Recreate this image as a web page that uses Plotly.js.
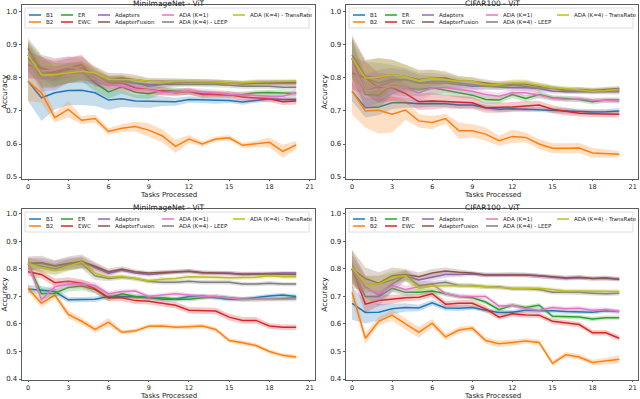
<!DOCTYPE html>
<html lang="en">
<head>
  <meta charset="UTF-8" />
  <title>Accuracy vs Tasks Processed</title>
  <script src="https://cdn.plot.ly/plotly-3.0.1.min.js"></script>
  <style>
    body { margin: 0; background: #fff; }
    #chart { width: 640px; height: 399px; }
  </style>
</head>
<body>
  <div id="chart"></div>
  <script>
    // x values shared by every panel
    const TASKS = [0,1,2,3,4,5,6,7,8,9,10,11,12,13,14,15,16,17,18,19,20];

    const NAMES = ['B1', 'B2', 'ER', 'EWC', 'Adapters', 'AdapterFusion',
                   'ADA (K=1)', 'ADA (K=4) - LEEP', 'ADA (K=4) - TransRate'];
    const COLORS = ['#1f77b4', '#ff7f0e', '#2ca02c', '#d62728', '#9467bd',
                    '#8c564b', '#e377c2', '#7f7f7f', '#bcbd22'];

    const X_TICKS = [0, 3, 6, 9, 12, 15, 18, 21];
    const Y_TICKS_TOP = [0.5, 0.6, 0.7, 0.8, 0.9, 1.0];
    const Y_TICKS_BOTTOM = [0.4, 0.5, 0.6, 0.7, 0.8, 0.9, 1.0];

    // ---- top left : MiniImageNet - ViT (mean, one row per method in NAMES order)
    const miniTopMean = [
      [0.79,0.74,0.755,0.762,0.763,0.755,0.733,0.737,0.73,0.729,0.73,0.728,0.735,0.734,0.732,0.732,0.727,0.733,0.737,0.735,0.735],
      [0.79,0.755,0.68,0.705,0.672,0.677,0.638,0.648,0.653,0.642,0.625,0.593,0.615,0.60,0.615,0.619,0.596,0.60,0.605,0.578,0.597],
      [0.87,0.83,0.805,0.815,0.82,0.785,0.758,0.773,0.757,0.752,0.762,0.76,0.758,0.752,0.75,0.748,0.75,0.755,0.756,0.754,0.753],
      [0.84,0.83,0.82,0.83,0.84,0.80,0.785,0.785,0.77,0.765,0.76,0.755,0.76,0.75,0.75,0.75,0.742,0.74,0.737,0.728,0.73],
      [0.87,0.80,0.798,0.815,0.815,0.80,0.79,0.79,0.785,0.78,0.78,0.785,0.787,0.787,0.787,0.785,0.782,0.785,0.785,0.785,0.785],
      [0.89,0.82,0.815,0.825,0.83,0.81,0.795,0.80,0.795,0.79,0.79,0.79,0.79,0.788,0.787,0.785,0.783,0.785,0.786,0.786,0.786],
      [0.85,0.82,0.825,0.835,0.825,0.805,0.78,0.775,0.765,0.765,0.757,0.757,0.76,0.758,0.755,0.75,0.748,0.745,0.745,0.745,0.755],
      [0.86,0.815,0.81,0.815,0.82,0.81,0.79,0.795,0.785,0.775,0.78,0.78,0.782,0.78,0.78,0.778,0.775,0.775,0.775,0.772,0.772],
      [0.87,0.81,0.81,0.815,0.82,0.815,0.795,0.795,0.795,0.79,0.788,0.79,0.79,0.788,0.788,0.785,0.785,0.788,0.789,0.79,0.79]
    ];
    const miniTopSd = [
      [0.06,0.07,0.05,0.045,0.045,0.04,0.03,0.025,0.02,0.02,0.015,0.012,0.01,0.01,0.01,0.008,0.008,0.008,0.008,0.008,0.008],
      [0.06,0.03,0.015,0.025,0.012,0.012,0.01,0.012,0.015,0.02,0.02,0.02,0.012,0.008,0.008,0.008,0.008,0.01,0.015,0.02,0.012],
      [0.04,0.035,0.03,0.03,0.03,0.025,0.02,0.02,0.018,0.015,0.012,0.01,0.01,0.01,0.008,0.008,0.008,0.008,0.008,0.008,0.008],
      [0.04,0.035,0.03,0.03,0.03,0.025,0.02,0.02,0.015,0.015,0.012,0.01,0.01,0.01,0.01,0.01,0.01,0.01,0.01,0.01,0.01],
      [0.04,0.04,0.035,0.03,0.03,0.02,0.015,0.015,0.012,0.01,0.01,0.008,0.008,0.008,0.008,0.008,0.008,0.008,0.008,0.008,0.008],
      [0.03,0.05,0.045,0.04,0.035,0.025,0.02,0.015,0.015,0.01,0.01,0.008,0.008,0.008,0.008,0.008,0.008,0.008,0.008,0.008,0.008],
      [0.04,0.035,0.03,0.03,0.03,0.02,0.02,0.015,0.012,0.01,0.01,0.01,0.01,0.01,0.01,0.01,0.01,0.01,0.01,0.01,0.01],
      [0.04,0.04,0.035,0.03,0.03,0.02,0.015,0.015,0.012,0.01,0.01,0.008,0.008,0.008,0.008,0.008,0.008,0.008,0.008,0.008,0.008],
      [0.04,0.04,0.035,0.03,0.03,0.02,0.015,0.012,0.01,0.008,0.008,0.008,0.008,0.008,0.008,0.008,0.008,0.008,0.008,0.008,0.008]
    ];

    // ---- top right : CIFAR100 - ViT
    const cifarTopMean = [
      [0.76,0.71,0.712,0.725,0.725,0.722,0.723,0.722,0.718,0.718,0.71,0.705,0.707,0.705,0.705,0.702,0.70,0.697,0.697,0.698,0.70],
      [0.76,0.70,0.702,0.69,0.703,0.67,0.665,0.677,0.64,0.64,0.63,0.61,0.623,0.62,0.60,0.587,0.587,0.588,0.573,0.571,0.569],
      [0.86,0.75,0.748,0.778,0.77,0.765,0.77,0.762,0.755,0.748,0.735,0.733,0.75,0.738,0.75,0.74,0.738,0.735,0.728,0.733,0.733],
      [0.815,0.80,0.77,0.77,0.753,0.728,0.73,0.728,0.726,0.725,0.71,0.71,0.712,0.715,0.718,0.705,0.698,0.693,0.692,0.69,0.69],
      [0.86,0.76,0.775,0.79,0.795,0.785,0.785,0.785,0.78,0.775,0.775,0.772,0.77,0.77,0.768,0.76,0.758,0.758,0.758,0.758,0.758],
      [0.87,0.805,0.80,0.81,0.805,0.795,0.80,0.80,0.79,0.79,0.785,0.78,0.782,0.782,0.775,0.77,0.762,0.765,0.762,0.765,0.768],
      [0.84,0.76,0.765,0.775,0.77,0.755,0.77,0.77,0.765,0.76,0.75,0.745,0.755,0.755,0.748,0.738,0.735,0.737,0.733,0.732,0.73],
      [0.86,0.80,0.785,0.795,0.795,0.785,0.79,0.79,0.785,0.78,0.775,0.775,0.778,0.775,0.77,0.768,0.762,0.762,0.76,0.762,0.762],
      [0.86,0.80,0.802,0.81,0.805,0.792,0.80,0.795,0.79,0.79,0.78,0.78,0.785,0.785,0.777,0.77,0.768,0.765,0.76,0.762,0.765]
    ];
    const cifarTopSd = [
      [0.03,0.03,0.025,0.02,0.015,0.012,0.01,0.01,0.01,0.01,0.008,0.008,0.008,0.008,0.008,0.008,0.008,0.008,0.008,0.008,0.008],
      [0.07,0.05,0.07,0.055,0.03,0.02,0.02,0.015,0.025,0.02,0.02,0.015,0.02,0.015,0.015,0.015,0.015,0.015,0.015,0.012,0.01],
      [0.06,0.04,0.04,0.03,0.025,0.02,0.02,0.015,0.015,0.012,0.012,0.01,0.01,0.01,0.01,0.008,0.008,0.008,0.008,0.008,0.008],
      [0.05,0.05,0.045,0.04,0.03,0.025,0.025,0.02,0.02,0.018,0.015,0.015,0.015,0.015,0.012,0.012,0.012,0.01,0.01,0.01,0.01],
      [0.06,0.05,0.05,0.04,0.03,0.025,0.02,0.015,0.015,0.012,0.01,0.01,0.01,0.01,0.01,0.008,0.008,0.008,0.008,0.008,0.008],
      [0.06,0.05,0.06,0.045,0.035,0.03,0.025,0.02,0.015,0.012,0.01,0.01,0.01,0.01,0.01,0.008,0.008,0.008,0.008,0.008,0.008],
      [0.06,0.05,0.05,0.04,0.03,0.025,0.02,0.015,0.015,0.012,0.012,0.01,0.01,0.01,0.01,0.008,0.008,0.008,0.008,0.008,0.008],
      [0.06,0.05,0.06,0.045,0.035,0.03,0.025,0.02,0.015,0.012,0.01,0.01,0.01,0.01,0.01,0.008,0.008,0.008,0.008,0.008,0.008],
      [0.06,0.05,0.06,0.045,0.035,0.03,0.025,0.02,0.015,0.012,0.01,0.01,0.01,0.01,0.01,0.008,0.008,0.008,0.008,0.008,0.008]
    ];

    // ---- bottom left : MiniImageNet - ViT
    const miniBotMean = [
      [0.727,0.723,0.718,0.688,0.688,0.69,0.70,0.70,0.70,0.698,0.69,0.69,0.70,0.702,0.695,0.69,0.69,0.697,0.702,0.705,0.70],
      [0.73,0.675,0.705,0.635,0.61,0.58,0.607,0.57,0.575,0.592,0.593,0.588,0.59,0.593,0.58,0.54,0.532,0.522,0.50,0.486,0.48],
      [0.82,0.71,0.712,0.733,0.738,0.725,0.695,0.71,0.70,0.695,0.695,0.69,0.69,0.695,0.70,0.695,0.69,0.69,0.69,0.693,0.695],
      [0.79,0.78,0.75,0.755,0.748,0.728,0.695,0.695,0.685,0.683,0.675,0.668,0.65,0.648,0.647,0.625,0.613,0.613,0.593,0.588,0.588],
      [0.82,0.82,0.81,0.82,0.825,0.805,0.785,0.795,0.785,0.78,0.785,0.788,0.792,0.785,0.785,0.785,0.78,0.782,0.782,0.785,0.785],
      [0.82,0.823,0.812,0.82,0.828,0.81,0.79,0.80,0.79,0.785,0.788,0.79,0.792,0.787,0.785,0.785,0.782,0.782,0.782,0.782,0.78],
      [0.82,0.688,0.735,0.745,0.745,0.74,0.71,0.718,0.72,0.70,0.705,0.71,0.705,0.70,0.70,0.695,0.69,0.69,0.69,0.69,0.69],
      [0.82,0.81,0.80,0.815,0.82,0.775,0.765,0.77,0.765,0.755,0.752,0.752,0.755,0.752,0.752,0.752,0.745,0.745,0.748,0.745,0.745],
      [0.82,0.805,0.795,0.81,0.825,0.785,0.77,0.773,0.765,0.757,0.763,0.765,0.772,0.772,0.77,0.768,0.768,0.77,0.775,0.772,0.772]
    ];
    const miniBotSd = [
      [0.015,0.015,0.012,0.01,0.01,0.01,0.008,0.008,0.008,0.008,0.008,0.008,0.008,0.008,0.008,0.008,0.008,0.008,0.008,0.008,0.008],
      [0.015,0.015,0.012,0.015,0.012,0.012,0.015,0.008,0.008,0.008,0.008,0.008,0.008,0.008,0.008,0.008,0.008,0.008,0.008,0.008,0.008],
      [0.02,0.02,0.015,0.015,0.015,0.015,0.012,0.01,0.008,0.008,0.008,0.008,0.008,0.008,0.008,0.008,0.008,0.008,0.008,0.008,0.008],
      [0.015,0.015,0.015,0.015,0.015,0.015,0.012,0.012,0.012,0.012,0.012,0.012,0.012,0.012,0.012,0.012,0.012,0.012,0.01,0.01,0.01],
      [0.02,0.02,0.02,0.02,0.02,0.015,0.01,0.008,0.008,0.008,0.008,0.008,0.008,0.008,0.008,0.008,0.008,0.008,0.008,0.008,0.008],
      [0.025,0.025,0.02,0.025,0.025,0.015,0.012,0.01,0.008,0.008,0.008,0.008,0.008,0.008,0.008,0.008,0.008,0.008,0.008,0.008,0.008],
      [0.02,0.015,0.015,0.015,0.015,0.012,0.01,0.008,0.008,0.008,0.008,0.008,0.008,0.008,0.008,0.008,0.008,0.008,0.008,0.008,0.008],
      [0.02,0.02,0.02,0.02,0.02,0.015,0.01,0.008,0.008,0.008,0.008,0.008,0.008,0.008,0.008,0.008,0.008,0.008,0.008,0.008,0.008],
      [0.02,0.02,0.02,0.02,0.02,0.015,0.01,0.008,0.008,0.008,0.008,0.008,0.008,0.008,0.008,0.008,0.008,0.008,0.008,0.008,0.008]
    ];

    // ---- bottom right : CIFAR100 - ViT
    const cifarBotMean = [
      [0.675,0.642,0.643,0.655,0.66,0.658,0.677,0.658,0.657,0.66,0.65,0.642,0.643,0.65,0.648,0.648,0.645,0.643,0.643,0.648,0.645],
      [0.715,0.548,0.61,0.632,0.60,0.57,0.603,0.553,0.578,0.585,0.54,0.528,0.533,0.538,0.533,0.457,0.488,0.48,0.46,0.465,0.472],
      [0.80,0.70,0.70,0.73,0.715,0.715,0.72,0.71,0.70,0.695,0.68,0.652,0.668,0.66,0.668,0.628,0.627,0.625,0.618,0.623,0.623],
      [0.80,0.672,0.685,0.69,0.695,0.697,0.71,0.672,0.675,0.675,0.655,0.625,0.637,0.633,0.632,0.61,0.605,0.598,0.568,0.568,0.548],
      [0.805,0.735,0.705,0.745,0.775,0.76,0.77,0.78,0.78,0.782,0.778,0.778,0.778,0.778,0.775,0.77,0.765,0.768,0.765,0.765,0.763],
      [0.80,0.765,0.748,0.775,0.78,0.772,0.785,0.793,0.788,0.785,0.778,0.778,0.78,0.778,0.775,0.772,0.768,0.77,0.765,0.768,0.763],
      [0.80,0.73,0.71,0.74,0.725,0.735,0.745,0.71,0.70,0.70,0.70,0.665,0.668,0.655,0.65,0.66,0.655,0.657,0.65,0.653,0.645],
      [0.80,0.745,0.745,0.76,0.775,0.74,0.745,0.752,0.74,0.74,0.735,0.735,0.728,0.728,0.725,0.715,0.715,0.715,0.712,0.71,0.712],
      [0.805,0.745,0.745,0.77,0.775,0.73,0.738,0.74,0.74,0.738,0.735,0.732,0.73,0.73,0.73,0.725,0.72,0.72,0.72,0.72,0.718]
    ];
    const cifarBotSd = [
      [0.06,0.04,0.03,0.02,0.015,0.012,0.01,0.01,0.01,0.008,0.008,0.008,0.008,0.008,0.008,0.008,0.008,0.008,0.008,0.008,0.008],
      [0.03,0.02,0.015,0.02,0.02,0.02,0.015,0.012,0.012,0.01,0.012,0.012,0.01,0.01,0.01,0.01,0.01,0.01,0.01,0.012,0.015],
      [0.03,0.02,0.02,0.015,0.012,0.01,0.01,0.008,0.008,0.008,0.008,0.008,0.008,0.008,0.008,0.008,0.008,0.008,0.008,0.008,0.008],
      [0.03,0.03,0.02,0.015,0.012,0.012,0.012,0.012,0.012,0.012,0.012,0.01,0.01,0.01,0.01,0.01,0.01,0.01,0.01,0.01,0.01],
      [0.06,0.04,0.04,0.03,0.02,0.015,0.012,0.012,0.01,0.008,0.008,0.008,0.008,0.008,0.008,0.008,0.008,0.008,0.008,0.008,0.008],
      [0.07,0.04,0.04,0.03,0.02,0.015,0.015,0.012,0.01,0.008,0.008,0.008,0.008,0.008,0.008,0.008,0.008,0.008,0.008,0.008,0.008],
      [0.05,0.03,0.03,0.02,0.015,0.012,0.01,0.008,0.008,0.008,0.008,0.008,0.008,0.008,0.008,0.008,0.008,0.008,0.008,0.008,0.008],
      [0.05,0.03,0.03,0.025,0.02,0.015,0.012,0.01,0.008,0.008,0.008,0.008,0.008,0.008,0.008,0.008,0.008,0.008,0.008,0.008,0.008],
      [0.06,0.03,0.03,0.025,0.02,0.015,0.012,0.01,0.008,0.008,0.008,0.008,0.008,0.008,0.008,0.008,0.008,0.008,0.008,0.008,0.008]
    ];

    // figure is 640x399 with zero margins, panels placed in pixels
    const W = 640, H = 399;
    const px = x => x / W;
    const py = y => 1 - y / H;

    const panels = [
      { title: 'MiniImageNet - ViT', mean: miniTopMean, sd: miniTopSd, left: 22, right: 315, top: 5, bottom: 179,
        yrange: [0.494, 1.021], yticks: Y_TICKS_TOP, xtitleY: 194.5 },
      { title: 'CIFAR100 - ViT', mean: cifarTopMean, sd: cifarTopSd, left: 346, right: 638, top: 5, bottom: 179,
        yrange: [0.494, 1.021], yticks: Y_TICKS_TOP, xtitleY: 194.5 },
      { title: 'MiniImageNet - ViT', mean: miniBotMean, sd: miniBotSd, left: 22, right: 315, top: 209, bottom: 380,
        yrange: [0.3964, 1.018], yticks: Y_TICKS_BOTTOM, xtitleY: 395.5 },
      { title: 'CIFAR100 - ViT', mean: cifarBotMean, sd: cifarBotSd, left: 346, right: 638, top: 209, bottom: 380,
        yrange: [0.3964, 1.018], yticks: Y_TICKS_BOTTOM, xtitleY: 395.5 }
    ];

    function hexToRgba(hex, a) {
      const n = parseInt(hex.slice(1), 16);
      return `rgba(${(n >> 16) & 255},${(n >> 8) & 255},${n & 255},${a})`;
    }

    const FONT = 'DejaVu Sans, Arial, sans-serif';
    const traces = [];
    const shapes = [];
    const annotations = [];
    const layout = {
      width: W, height: H,
      margin: { l: 0, r: 0, t: 0, b: 0 },
      paper_bgcolor: '#fff', plot_bgcolor: '#fff',
      showlegend: false,
      font: { family: FONT, color: '#222' }
    };

    // legend columns (matplotlib ncol=5, filled column by column)
    const LEGEND_COLS = [[0, 1], [2, 3], [4, 5], [6, 7], [8]];
    const COL_OFFSETS = [7, 39, 76, 140, 211];

    panels.forEach((p, i) => {
      const k = i === 0 ? '' : String(i + 1);
      const xa = 'x' + k, ya = 'y' + k;

      layout['xaxis' + k] = {
        domain: [px(p.left), px(p.right)], anchor: ya,
        range: [-0.45, 21.4], tickvals: X_TICKS,
        ticks: 'outside', ticklen: 1.5, tickwidth: 0.8, tickcolor: '#333',
        showline: true, linecolor: '#333', linewidth: 0.8, mirror: true,
        showgrid: false, zeroline: false,
        tickfont: { size: 6.5, color: '#222' }
      };
      layout['yaxis' + k] = {
        domain: [py(p.bottom), py(p.top)], anchor: xa,
        range: p.yrange, tickvals: p.yticks, tickformat: '.1f',
        ticks: 'outside', ticklen: 2.5, tickwidth: 0.8, tickcolor: '#333',
        showline: true, linecolor: '#333', linewidth: 0.8, mirror: true,
        showgrid: false, zeroline: false,
        tickfont: { size: 7, color: '#222' },
        title: { text: 'Accuracy', font: { size: 7.5 }, standoff: 1 }
      };

      p.mean.forEach((m, s) => {
        const upper = m.map((v, j) => v + p.sd[s][j]);
        const lower = m.map((v, j) => v - p.sd[s][j]);
        traces.push({
          x: TASKS.concat(TASKS.slice().reverse()),
          y: upper.concat(lower.reverse()),
          xaxis: xa, yaxis: ya,
          type: 'scatter', mode: 'lines', fill: 'toself',
          fillcolor: hexToRgba(COLORS[s], 0.25),
          line: { width: 0 }, hoverinfo: 'skip', showlegend: false
        });
        traces.push({
          x: TASKS, y: m, xaxis: xa, yaxis: ya,
          type: 'scatter', mode: 'lines', name: NAMES[s],
          line: { color: COLORS[s], width: 1.5 }
        });
      });

      // subplot title
      annotations.push({
        xref: 'paper', yref: 'paper',
        x: px((p.left + p.right) / 2), y: py(p.top - 1.5),
        xanchor: 'center', yanchor: 'middle', showarrow: false,
        text: p.title, font: { size: 7.5, color: '#222' }
      });

      // x axis title
      annotations.push({
        xref: 'paper', yref: 'paper',
        x: px((p.left + p.right) / 2), y: py(p.xtitleY),
        xanchor: 'center', yanchor: 'middle', showarrow: false,
        text: 'Tasks Processed', font: { size: 7, color: '#222' }
      });

      // legend box
      shapes.push({
        type: 'rect', xref: 'paper', yref: 'paper', layer: 'above',
        x0: px(p.left + 3), x1: px(p.left + 287), y0: py(p.top + 23), y1: py(p.top + 3),
        fillcolor: 'rgba(255,255,255,0.8)', line: { color: '#d6d6d6', width: 0.8 }
      });
      LEGEND_COLS.forEach((col, c) => {
        col.forEach((s, r) => {
          const yy = p.top + 10 + r * 7;
          const x0 = p.left + COL_OFFSETS[c];
          shapes.push({
            type: 'line', xref: 'paper', yref: 'paper', layer: 'above',
            x0: px(x0), x1: px(x0 + 12), y0: py(yy), y1: py(yy),
            line: { color: COLORS[s], width: 1.5 }
          });
          annotations.push({
            xref: 'paper', yref: 'paper', x: px(x0 + 15), y: py(yy),
            xanchor: 'left', yanchor: 'middle', showarrow: false,
            text: NAMES[s], font: { size: 5.5, color: '#222' }
          });
        });
      });
    });

    layout.shapes = shapes;
    layout.annotations = annotations;

    Plotly.newPlot('chart', traces, layout, { displayModeBar: false, staticPlot: true });
  </script>
</body>
</html>
